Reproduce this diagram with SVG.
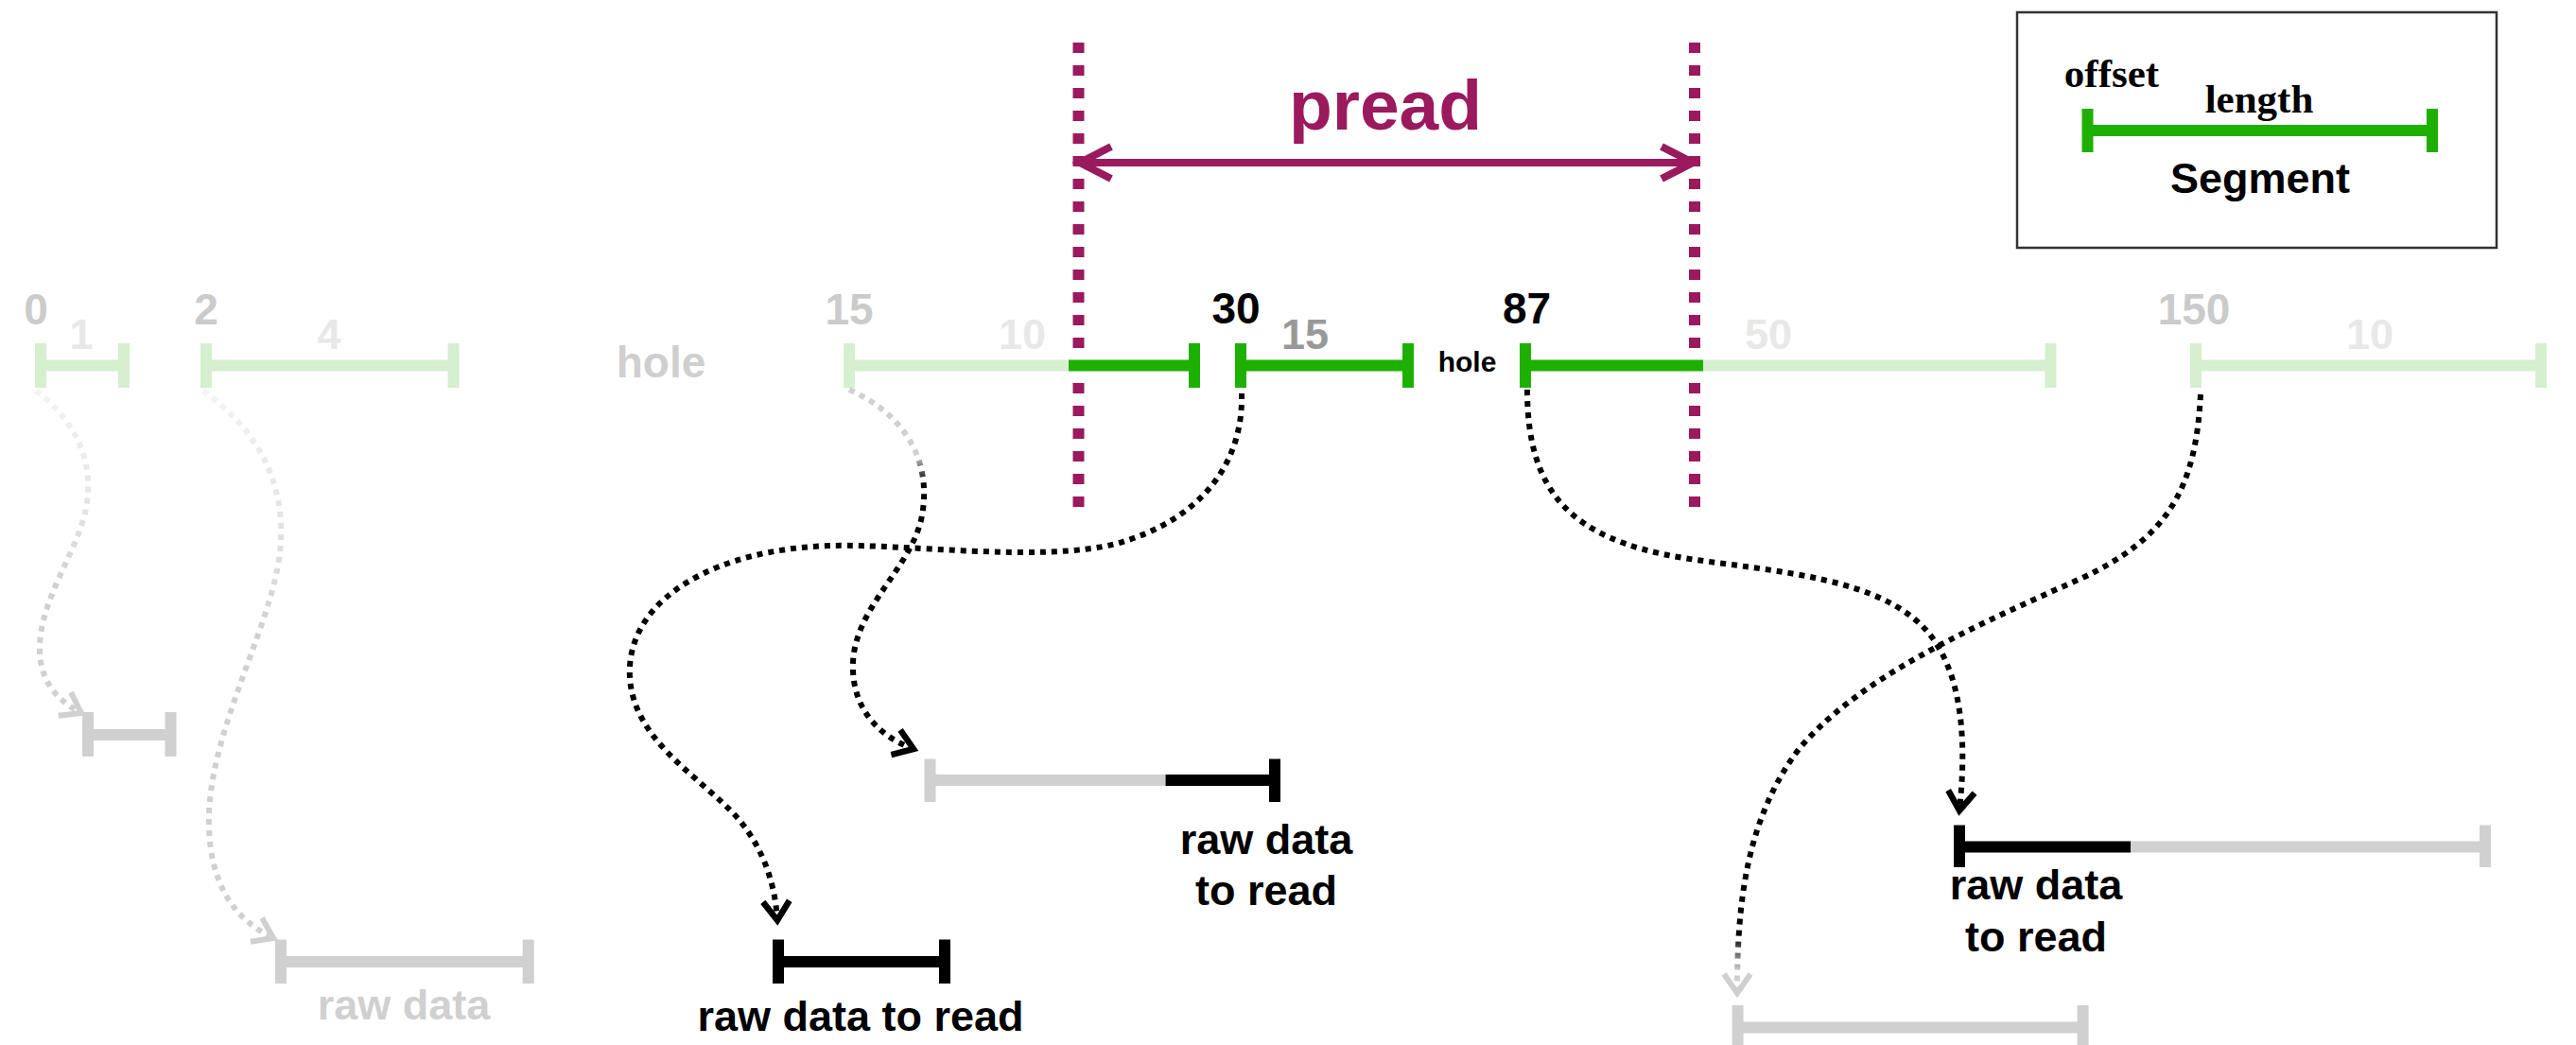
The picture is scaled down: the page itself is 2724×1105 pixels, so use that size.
<svg xmlns="http://www.w3.org/2000/svg" width="2724" height="1105" viewBox="0 0 2724 1105">
  <style>
    text { font-family: "Liberation Sans", Arial, Helvetica, sans-serif; font-weight: bold; text-anchor: middle; }
    .serif { font-family: "Liberation Serif", "Times New Roman", serif; }
    .num { font-size: 46px; }
    .len { font-size: 45px; }
    .faint { fill: #cbcbcb; }
    .fainter { fill: #e8e8e8; }
    .lg { stroke: #d5efcf; stroke-width: 12; }
    .dg { stroke: #1eb000; stroke-width: 12; }
    .gr { stroke: #d0d0d0; stroke-width: 12; }
    .bk { stroke: #000000; stroke-width: 12; }
    .dot { fill: none; stroke-width: 6; stroke-dasharray: 6 6; }
    .pur-dash { stroke: #9a1a5d; stroke-width: 12; stroke-dasharray: 11 13; }
    .label { font-size: 45px; fill: #000; }
  </style>
  <defs>
    <marker id="head-black" markerUnits="userSpaceOnUse" viewBox="-30 -20 34 40" markerWidth="34" markerHeight="40" refX="0" refY="0" orient="auto" overflow="visible">
      <path d="M -20 -14 L 0 0 L -20 14" fill="none" stroke="#000" stroke-width="6.5"/>
    </marker>
    <marker id="head-gray" markerUnits="userSpaceOnUse" viewBox="-30 -20 34 40" markerWidth="34" markerHeight="40" refX="0" refY="0" orient="auto" overflow="visible">
      <path d="M -20 -14 L 0 0 L -20 14" fill="none" stroke="#d0d0d0" stroke-width="6"/>
    </marker>
    <marker id="head-pur" markerUnits="userSpaceOnUse" viewBox="-40 -20 44 40" markerWidth="44" markerHeight="40" refX="0" refY="0" orient="auto-start-reverse" overflow="visible">
      <path d="M -34 -17 L -1 0 L -34 17" fill="none" stroke="#9a1a5d" stroke-width="8"/>
    </marker>
    <linearGradient id="fade-0" gradientUnits="userSpaceOnUse" x1="0" y1="413" x2="0" y2="760">
      <stop offset="0" stop-color="#f3f3f3"/>
      <stop offset="0.35" stop-color="#e4e4e4"/>
      <stop offset="0.6" stop-color="#d0d0d0"/>
      <stop offset="1" stop-color="#d0d0d0"/>
    </linearGradient>
    <linearGradient id="fade-2" gradientUnits="userSpaceOnUse" x1="0" y1="413" x2="0" y2="995">
      <stop offset="0" stop-color="#f3f3f3"/>
      <stop offset="0.25" stop-color="#e2e2e2"/>
      <stop offset="0.45" stop-color="#d0d0d0"/>
      <stop offset="1" stop-color="#d0d0d0"/>
    </linearGradient>
    <linearGradient id="fade-15" gradientUnits="userSpaceOnUse" x1="0" y1="412" x2="0" y2="795">
      <stop offset="0" stop-color="#d0d0d0"/>
      <stop offset="0.18" stop-color="#d0d0d0"/>
      <stop offset="0.26" stop-color="#000000"/>
      <stop offset="1" stop-color="#000000"/>
    </linearGradient>
    <linearGradient id="fade-150" gradientUnits="userSpaceOnUse" x1="0" y1="417" x2="0" y2="1052">
      <stop offset="0" stop-color="#000000"/>
      <stop offset="0.9" stop-color="#000000"/>
      <stop offset="0.96" stop-color="#d0d0d0"/>
      <stop offset="1" stop-color="#d0d0d0"/>
    </linearGradient>
  </defs>

  <rect x="0" y="0" width="2724" height="1105" fill="#ffffff"/>

  <!-- pread window -->
  <g id="pread">
    <line class="pur-dash" x1="1140.5" y1="45" x2="1140.5" y2="536"/>
    <line class="pur-dash" x1="1792" y1="45" x2="1792" y2="536"/>
    <line x1="1141" y1="172" x2="1791" y2="172" stroke="#9a1a5d" stroke-width="8" marker-start="url(#head-pur)" marker-end="url(#head-pur)"/>
    <text x="1465" y="137" style="font-size:75px" fill="#9a1a5d">pread</text>
  </g>

  <!-- legend -->
  <g id="legend">
    <rect x="2133" y="13" width="507" height="249" fill="#ffffff" stroke="#333333" stroke-width="2.5"/>
    <text class="serif" x="2233" y="92" style="font-size:43px">offset</text>
    <text class="serif" x="2389" y="119" style="font-size:43px">length</text>
    <line class="dg" x1="2207.5" y1="138" x2="2572" y2="138"/>
    <line class="dg" x1="2207.5" y1="115" x2="2207.5" y2="161"/>
    <line class="dg" x1="2572" y1="115" x2="2572" y2="161"/>
    <text x="2390" y="204" style="font-size:45px">Segment</text>
  </g>

  <!-- segment row -->
  <g id="seg-0">
    <text class="num faint" x="38" y="343">0</text>
    <text class="len fainter" x="86" y="369">1</text>
    <line class="lg" x1="43" y1="386.5" x2="131" y2="386.5"/>
    <line class="lg" x1="43" y1="363" x2="43" y2="410"/>
    <line class="lg" x1="131" y1="363" x2="131" y2="410"/>
  </g>
  <g id="seg-2">
    <text class="num faint" x="218" y="343">2</text>
    <text class="len fainter" x="348" y="369">4</text>
    <line class="lg" x1="218" y1="386.5" x2="479.5" y2="386.5"/>
    <line class="lg" x1="218" y1="363" x2="218" y2="410"/>
    <line class="lg" x1="479.5" y1="363" x2="479.5" y2="410"/>
  </g>
  <g id="hole-1">
    <text x="699" y="399" style="font-size:46px" fill="#cfcfcf">hole</text>
  </g>
  <g id="seg-15">
    <text class="num faint" x="898" y="343">15</text>
    <text class="len fainter" x="1081" y="369">10</text>
    <line class="lg" x1="898" y1="386.5" x2="1131" y2="386.5"/>
    <line class="dg" x1="1130" y1="386.5" x2="1263" y2="386.5"/>
    <line class="lg" x1="898" y1="363" x2="898" y2="410"/>
    <line class="dg" x1="1263" y1="363" x2="1263" y2="410"/>
  </g>
  <g id="seg-30">
    <text class="num" x="1307" y="342">30</text>
    <text class="len" x="1380" y="369" fill="#999999">15</text>
    <line class="dg" x1="1312" y1="386.5" x2="1489" y2="386.5"/>
    <line class="dg" x1="1312" y1="363" x2="1312" y2="410"/>
    <line class="dg" x1="1489" y1="363" x2="1489" y2="410"/>
  </g>
  <g id="hole-2">
    <text x="1551.5" y="393" style="font-size:30px">hole</text>
  </g>
  <g id="seg-87">
    <text class="num" x="1614.5" y="342">87</text>
    <text class="len fainter" x="1870" y="369">50</text>
    <line class="lg" x1="1800" y1="386.5" x2="2168.5" y2="386.5"/>
    <line class="dg" x1="1613" y1="386.5" x2="1801" y2="386.5"/>
    <line class="dg" x1="1613" y1="363" x2="1613" y2="410"/>
    <line class="lg" x1="2168.5" y1="363" x2="2168.5" y2="410"/>
  </g>
  <g id="seg-150">
    <text class="num faint" x="2320" y="343">150</text>
    <text class="len fainter" x="2506" y="369">10</text>
    <line class="lg" x1="2322" y1="386.5" x2="2687" y2="386.5"/>
    <line class="lg" x1="2322" y1="363" x2="2322" y2="410"/>
    <line class="lg" x1="2687" y1="363" x2="2687" y2="410"/>
  </g>

  <!-- raw data blocks -->
  <g id="raw-0">
    <line class="gr" x1="93" y1="777" x2="180.5" y2="777"/>
    <line class="gr" x1="93" y1="753" x2="93" y2="800"/>
    <line class="gr" x1="180.5" y1="753" x2="180.5" y2="800"/>
  </g>
  <g id="raw-2">
    <line class="gr" x1="297" y1="1017" x2="558.7" y2="1017"/>
    <line class="gr" x1="297" y1="993.5" x2="297" y2="1040"/>
    <line class="gr" x1="558.7" y1="993.5" x2="558.7" y2="1040"/>
    <text x="427" y="1078" style="font-size:45px" fill="#d0d0d0">raw data</text>
  </g>
  <g id="raw-15">
    <line class="gr" x1="983.5" y1="825" x2="1233" y2="825"/>
    <line class="bk" x1="1232.6" y1="825" x2="1348" y2="825"/>
    <line class="gr" x1="983.5" y1="802.5" x2="983.5" y2="848"/>
    <line class="bk" x1="1348" y1="802.5" x2="1348" y2="848"/>
    <text class="label" x="1339" y="903">raw data</text>
    <text class="label" x="1339" y="957">to read</text>
  </g>
  <g id="raw-30">
    <line class="bk" x1="823" y1="1017" x2="999" y2="1017"/>
    <line class="bk" x1="823" y1="993.5" x2="823" y2="1040"/>
    <line class="bk" x1="999" y1="993.5" x2="999" y2="1040"/>
    <text class="label" x="910" y="1090">raw data to read</text>
  </g>
  <g id="raw-87">
    <line class="gr" x1="2252" y1="895.5" x2="2628" y2="895.5"/>
    <line class="bk" x1="2072" y1="895.5" x2="2253" y2="895.5"/>
    <line class="bk" x1="2072" y1="872.5" x2="2072" y2="917"/>
    <line class="gr" x1="2628" y1="872.5" x2="2628" y2="917"/>
    <text class="label" x="2153" y="951">raw data</text>
    <text class="label" x="2153" y="1006">to read</text>
  </g>
  <g id="raw-150">
    <line class="gr" x1="1837.6" y1="1086.5" x2="2202.6" y2="1086.5"/>
    <line class="gr" x1="1837.6" y1="1063" x2="1837.6" y2="1110"/>
    <line class="gr" x1="2202.6" y1="1063" x2="2202.6" y2="1110"/>
  </g>

  <!-- connectors: segment offset to its raw data -->
  <g id="connectors">
    <path class="dot" stroke="url(#fade-0)" marker-end="url(#head-gray)" d="M 38 413 C 72 440, 96 475, 93 522 C 90 575, 44 625, 42 683 C 41 720, 60 740, 86 754"/>
    <path class="dot" stroke="url(#fade-2)" marker-end="url(#head-gray)" d="M 215 413 C 265 450, 300 500, 297 570 C 295 650, 225 760, 221 860 C 219 935, 248 972, 289 992"/>
    <path class="dot" stroke="url(#fade-15)" marker-end="url(#head-black)" d="M 898 412 C 960 440, 985 490, 975 545 C 965 600, 905 640, 902 700 C 900 748, 928 778, 966 792"/>
    <path class="dot" stroke="#000" marker-end="url(#head-black)" d="M 1313 416 C 1315 490, 1270 550, 1180 575 C 1100 595, 960 575, 880 577 C 760 580, 670 630, 666 705 C 662 780, 740 820, 780 865 C 810 900, 820 940, 822 973"/>
    <path class="dot" stroke="#000" marker-end="url(#head-black)" d="M 1615 412 C 1615 520, 1660 570, 1780 590 C 1880 605, 1990 610, 2040 670 C 2080 720, 2078 800, 2072 857"/>
    <path class="dot" stroke="url(#fade-150)" marker-end="url(#head-gray)" d="M 2327 417 C 2322 520, 2290 570, 2200 612 C 2080 665, 1960 720, 1900 795 C 1845 870, 1837 960, 1837 1050"/>
  </g>
</svg>
